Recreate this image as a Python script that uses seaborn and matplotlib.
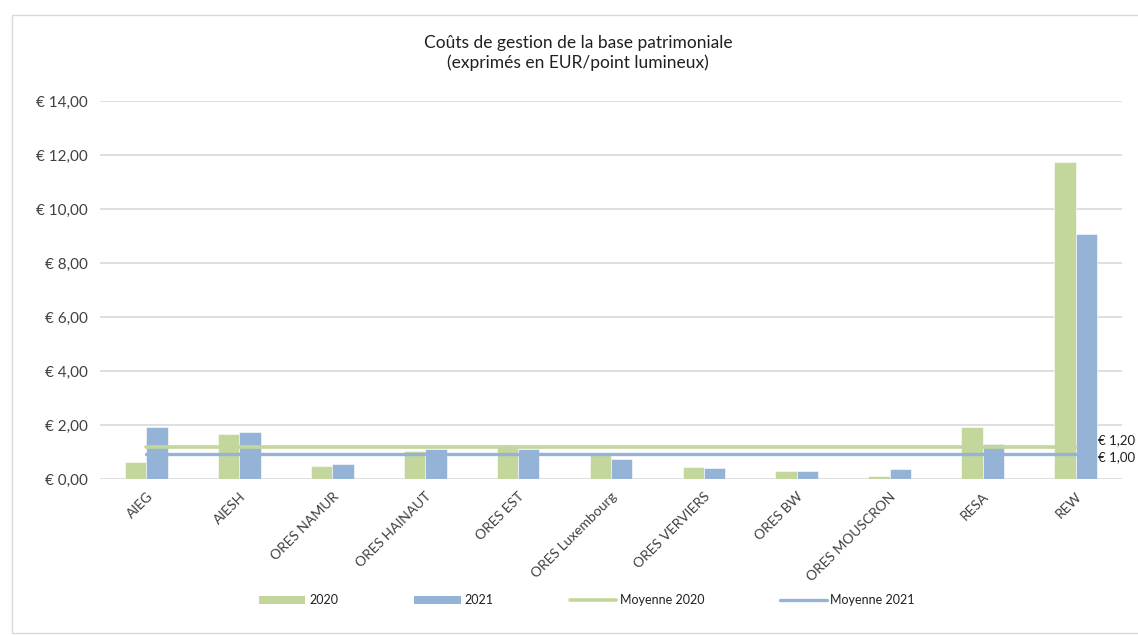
import numpy as np
import pandas as pd
import matplotlib
matplotlib.use("Agg")
import matplotlib.pyplot as plt
import matplotlib.ticker as mticker
from matplotlib.patches import Rectangle, Patch
from matplotlib.lines import Line2D
import seaborn as sns

categories = ["AIEG", "AIESH", "ORES NAMUR", "ORES HAINAUT", "ORES EST",
              "ORES Luxembourg", "ORES VERVIERS", "ORES BW", "ORES MOUSCRON",
              "RESA", "REW"]
values_2020 = [0.63, 1.69, 0.49, 1.05, 1.26, 0.99, 0.44, 0.32, 0.12, 1.95, 11.75]
values_2021 = [1.92, 1.74, 0.56, 1.11, 1.11, 0.75, 0.43, 0.31, 0.37, 1.31, 9.10]
moyenne_2020 = [1.20] * len(categories)
moyenne_2021 = [0.95] * len(categories)
moyenne_labels = ["€ 1,20", "€ 1,00"]
series_names = ["2020", "2021", "Moyenne 2020", "Moyenne 2021"]
title_lines = ["Coûts de gestion de la base patrimoniale", "(exprimés en EUR/point lumineux)"]

GREEN = "#C3D69B"
BLUE = "#95B3D7"
GRID = "#D9D9D9"
TXT = "#404040"

sns.set_theme(style="white")
plt.rcParams["font.family"] = ["Lato", "DejaVu Sans"]

df = pd.DataFrame({
    "cat": categories * 2,
    "year": [series_names[0]] * len(categories) + [series_names[1]] * len(categories),
    "val": values_2020 + values_2021,
})

W, H = 1138, 635
fig = plt.figure(figsize=(W / 100, H / 100), dpi=100)
ax = fig.add_axes([100 / W, 1 - 479.3 / H, (1122 - 100) / W, (479.3 - 101.3) / H])

sns.barplot(data=df, x="cat", y="val", hue="year", order=categories,
            hue_order=series_names[:2], palette=[GREEN, BLUE], width=0.46,
            dodge=True, saturation=1, ax=ax, zorder=2, legend=False,
            edgecolor="white", linewidth=0.4)

xs = np.arange(len(categories))
sns.lineplot(x=xs, y=moyenne_2020, color=GREEN, linewidth=2.6, ax=ax, zorder=3)
sns.lineplot(x=xs, y=moyenne_2021, color=BLUE, linewidth=2.4, ax=ax, zorder=3)

ax.set_xlim(-0.5, len(categories) - 0.5)
ax.set_ylim(0, 14)
ax.set_yticks(np.arange(0, 14.01, 2))
ax.yaxis.set_major_formatter(mticker.FuncFormatter(lambda v, p: "€ " + f"{v:.2f}".replace(".", ",")))
ax.grid(axis="y", color=GRID, linewidth=1.2, zorder=0)
ax.set_axisbelow(True)
for s in ax.spines.values():
    s.set_visible(False)
ax.tick_params(axis="y", length=0, pad=8.5, labelsize=11, labelcolor=TXT)
ax.tick_params(axis="x", length=0, pad=8, labelsize=10, labelcolor=TXT)
ax.set_xlabel("")
ax.set_ylabel("")
ax.set_xticks(xs)
ax.set_xticklabels(categories, rotation=45, ha="right", rotation_mode="anchor")

# mean labels
ax.annotate(moyenne_labels[0], xy=(xs[-1], moyenne_2020[-1]), xytext=(16, 5),
            textcoords="offset points", va="center", ha="left", fontsize=9.5,
            color="#202020", annotation_clip=False)
ax.annotate(moyenne_labels[1], xy=(xs[-1], moyenne_2021[-1]), xytext=(16, -2.5),
            textcoords="offset points", va="center", ha="left", fontsize=9.5,
            color="#202020", annotation_clip=False)

fig.text(578 / W, 1 - 43 / H, title_lines[0], ha="center", va="center", fontsize=12.5, color="#202020")
fig.text(578 / W, 1 - 63 / H, title_lines[1], ha="center", va="center", fontsize=12.5, color="#202020")

handles = [Patch(facecolor=GREEN, edgecolor="none"), Patch(facecolor=BLUE, edgecolor="none"),
           Line2D([], [], color=GREEN, linewidth=2.6), Line2D([], [], color=BLUE, linewidth=2.4)]
fig.legend(handles, series_names, loc="center", bbox_to_anchor=(587 / W, 1 - 600 / H),
           ncol=4, frameon=False, fontsize=9, handlelength=3.7, handleheight=0.6,
           columnspacing=6.1, handletextpad=0.3, labelcolor="#202020")

fig.add_artist(Rectangle((12 / W, 2 / H), 1.2, 1 - 15 / H - 2 / H, transform=fig.transFigure,
                         fill=False, edgecolor="#D9D9D9", linewidth=1.0))

fig.savefig("out.png", dpi=100)
